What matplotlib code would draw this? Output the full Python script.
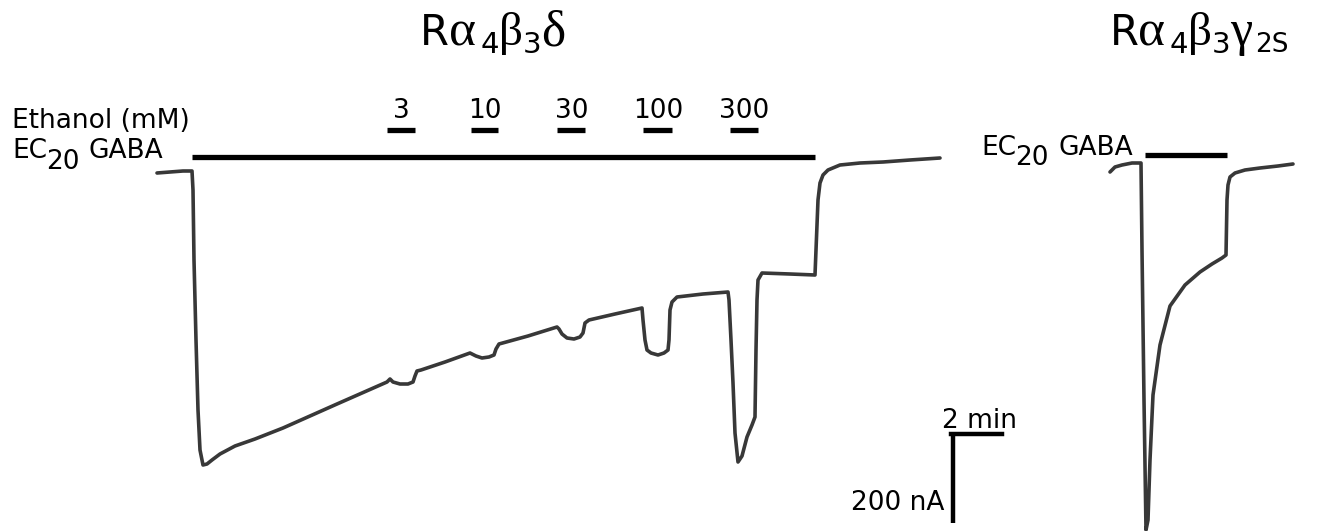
import matplotlib
matplotlib.use("Agg")
import matplotlib.pyplot as plt

W, H = 1318, 531

# ---- data (drawing units = reference pixels, y down) ----
# Ralpha4beta3delta trace
delta_x = [157, 170, 183, 192, 193, 194, 196, 198, 200, 203, 207, 212, 220, 235, 255, 283, 310, 337, 362, 387,
           390, 393, 400, 408, 413, 415, 417, 421, 445, 470,
           472, 476, 482, 489, 494, 496, 499, 528, 557,
           559, 562, 567, 574, 580, 583, 585, 589, 615, 642,
           643, 645, 647, 651, 658, 664, 668, 669, 670, 672, 677, 703, 728,
           729, 731, 733, 735, 738, 742, 747, 752, 755,
           756, 757, 758, 762, 790, 815,
           816, 818, 820, 823, 828, 840, 860, 883, 910, 940]
delta_y = [173, 172, 171, 171, 190, 260, 340, 410, 450, 465, 464, 460, 454, 446, 439, 428, 416, 404, 393, 382,
           379, 382, 384, 384, 382, 376, 371, 370, 362, 353,
           354, 356, 358, 357, 355, 349, 344, 336, 327,
           329, 334, 338, 339, 337, 333, 323, 320, 314, 308,
           320, 340, 350, 353, 355, 353, 350, 340, 310, 302, 297, 294, 292,
           300, 340, 383, 433, 462, 456, 437, 425, 417,
           350, 300, 280, 273, 274, 275,
           250, 200, 183, 175, 170, 165, 163, 162, 160, 158]

# Ralpha4beta3gamma2S trace
gamma_x = [1110, 1115, 1122, 1132, 1141, 1142, 1144, 1146,
           1148, 1150, 1153, 1160, 1170, 1185, 1200, 1212, 1222, 1226,
           1227, 1228, 1230, 1235, 1245, 1260, 1278, 1293]
gamma_y = [172, 167, 165, 163, 163, 250, 400, 530,
           520, 460, 395, 345, 306, 285, 272, 264, 258, 255,
           200, 185, 177, 173, 170, 168, 166, 164]

# Drug applications
ethanol_labels = ["3", "10", "30", "100", "300"]
ethanol_start = [387, 471, 557, 643, 730]
ethanol_end = [415, 498, 585, 672, 758]
gaba_delta = (192, 815)
gaba_gamma = (1145, 1227)

# ---- figure ----
fig = plt.figure(figsize=(W / 100, H / 100), dpi=100)
ax = fig.add_axes([0, 0, 1, 1])
ax.set_xlim(0, W)
ax.set_ylim(H, 0)
ax.axis("off")

trace_kw = dict(color="#383838", lw=2.6, solid_joinstyle="round", solid_capstyle="round")
ax.plot(delta_x, delta_y, **trace_kw)
ax.plot(gamma_x, gamma_y, **trace_kw)

bar_kw = dict(color="black", lw=3.8, solid_capstyle="butt")
ax.plot(gaba_delta, [157, 157], **bar_kw)
ax.plot(gaba_gamma, [155, 155], **bar_kw)
for lab, s, e in zip(ethanol_labels, ethanol_start, ethanol_end):
    ax.plot([s, e], [130, 130], **bar_kw)
    ax.text((s + e) / 2 + 0.5, 118, lab, ha="center", va="baseline",
            fontsize=19, family="DejaVu Sans")

sans = dict(family="DejaVu Sans", fontsize=19, va="baseline", ha="left")
ax.text(12, 128, "Ethanol (mM)", **sans)
# EC20 GABA (left)
ax.text(12, 158, "EC", **sans)
ax.text(46, 169, "20", **sans)
ax.text(89, 158, "GABA", **sans)
# EC20 GABA (right)
ax.text(981, 155, "EC", **sans)
ax.text(1015, 165, "20", **sans)
ax.text(1058, 155, "GABA", **sans)

# scale bar
ax.plot([951, 1002], [434, 434], color="black", lw=3.2, solid_capstyle="projecting")
ax.plot([953, 953], [434, 523], color="black", lw=3.2, solid_capstyle="butt")
ax.text(942, 428, "2 min", **sans)
ax.text(851, 510, "200 nA", **sans)

# titles (composed pieces)
def title(x0, parts):
    for dx, dy, s, fam, size in parts:
        ax.text(x0 + dx, 45 + dy, s, family=fam, fontsize=size, va="baseline", ha="left")

G = "Liberation Serif"
S = "DejaVu Sans"
title(420, [(0, 0, "R", S, 30), (29, 0, "α", G, 37), (61, 8, "4", S, 21),
            (79, 0, "β", G, 34), (103, 8, "3", S, 21), (121, 0, "δ", G, 37)])
title(1110, [(0, 0, "R", S, 30), (28, 0, "α", G, 37), (60, 8, "4", S, 21),
             (78, 0, "β", G, 34), (102, 8, "3", S, 21), (120, 0, "γ", G, 36),
             (145, 7, "2S", S, 19)])

fig.savefig("out.png", dpi=100, facecolor="white")
